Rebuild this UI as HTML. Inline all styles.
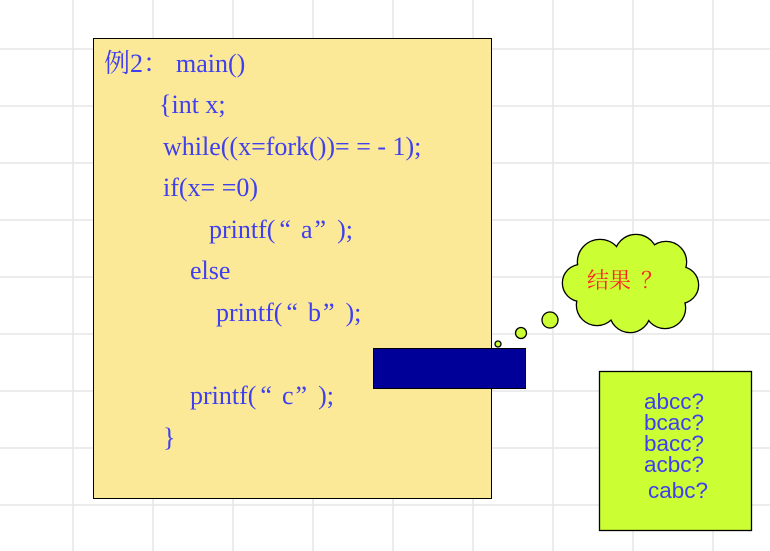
<!DOCTYPE html>
<html><head><meta charset="utf-8"><style>
html,body{margin:0;padding:0;background:#fff}
svg{display:block}
.c{font-family:"Liberation Serif","Noto Serif CJK SC",serif;font-size:26px;fill:#3f3ff0}
.s{font-family:"Liberation Sans",sans-serif;font-size:22.5px;fill:#3f3ff0}
</style></head><body>
<svg width="770" height="551" viewBox="0 0 770 551" xmlns="http://www.w3.org/2000/svg">
<g stroke="#e6e6e6" stroke-width="1.5">
<line x1="73" y1="0" x2="73" y2="551"/><line x1="153" y1="0" x2="153" y2="551"/><line x1="233" y1="0" x2="233" y2="551"/><line x1="313" y1="0" x2="313" y2="551"/><line x1="393" y1="0" x2="393" y2="551"/><line x1="473" y1="0" x2="473" y2="551"/><line x1="553" y1="0" x2="553" y2="551"/><line x1="633" y1="0" x2="633" y2="551"/><line x1="713" y1="0" x2="713" y2="551"/>
<line x1="0" y1="49" x2="770" y2="49"/><line x1="0" y1="106" x2="770" y2="106"/><line x1="0" y1="163" x2="770" y2="163"/><line x1="0" y1="220" x2="770" y2="220"/><line x1="0" y1="277" x2="770" y2="277"/><line x1="0" y1="334" x2="770" y2="334"/><line x1="0" y1="391" x2="770" y2="391"/><line x1="0" y1="448" x2="770" y2="448"/><line x1="0" y1="505" x2="770" y2="505"/>
</g>
<rect x="93.5" y="38.5" width="398" height="460" fill="#fbe998" stroke="#000" stroke-width="1"/>
<text class="c" x="104" y="72">例2：<tspan x="176">main()</tspan></text>
<text class="c" x="159" y="113">{int x;</text>
<text class="c" x="163" y="155">while((x=fork())= = - 1);</text>
<text class="c" x="163" y="196">if(x= =0)</text>
<text class="c" x="209" y="238">printf(<tspan dx="4">“</tspan><tspan dx="10">a</tspan><tspan dx="2">”</tspan><tspan dx="11">);</tspan></text>
<text class="c" x="190" y="279">else</text>
<text class="c" x="216" y="321">printf(<tspan dx="4">“</tspan><tspan dx="10">b</tspan><tspan dx="2">”</tspan><tspan dx="11">);</tspan></text>
<text class="c" x="190" y="404">printf(<tspan dx="4">“</tspan><tspan dx="10">c</tspan><tspan dx="2">”</tspan><tspan dx="11">);</tspan></text>
<text class="c" x="163" y="446">}</text>
<rect x="373.5" y="348.5" width="152" height="40" fill="#000099" stroke="#000"/>
<g fill="#ccff33" stroke="#000" stroke-width="1.3">
<circle cx="498" cy="344" r="3"/><circle cx="521" cy="333" r="5.5"/><circle cx="550" cy="320" r="8"/>
</g>
<g fill="#ccff33" stroke="#000" stroke-width="2.6">
<circle cx="600" cy="262" r="22"/><circle cx="636" cy="256" r="21"/><circle cx="666" cy="262" r="20"/><circle cx="680" cy="285" r="18"/><circle cx="665" cy="308" r="20"/><circle cx="630" cy="312" r="20"/><circle cx="597" cy="305" r="20"/><circle cx="581" cy="283" r="18"/><circle cx="630" cy="283" r="35"/>
</g>
<g fill="#ccff33">
<circle cx="600" cy="262" r="22"/><circle cx="636" cy="256" r="21"/><circle cx="666" cy="262" r="20"/><circle cx="680" cy="285" r="18"/><circle cx="665" cy="308" r="20"/><circle cx="630" cy="312" r="20"/><circle cx="597" cy="305" r="20"/><circle cx="581" cy="283" r="18"/><circle cx="630" cy="283" r="35"/>
</g>
<text x="587" y="288" font-family="'Liberation Serif','Noto Serif CJK SC',serif" font-size="22" fill="#ff2222">结果<tspan dx="10">？</tspan></text>
<rect x="599.5" y="371.5" width="152" height="159" fill="#ccff33" stroke="#000" stroke-width="1.3"/>
<text class="s" x="644" y="409">abcc?</text>
<text class="s" x="644" y="430">bcac?</text>
<text class="s" x="644" y="451">bacc?</text>
<text class="s" x="644" y="472">acbc?</text>
<text class="s" x="648" y="498">cabc?</text>
</svg>
</body></html>
